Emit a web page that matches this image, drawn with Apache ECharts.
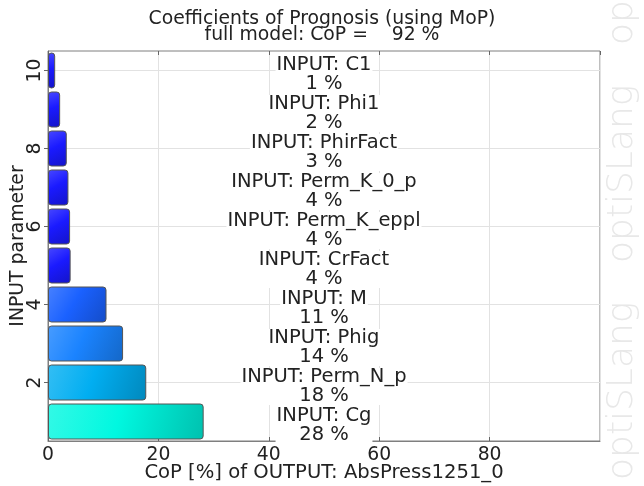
<!DOCTYPE html>
<html>
<head>
<meta charset="utf-8">
<script src="https://cdn.jsdelivr.net/npm/echarts@6/dist/echarts.min.js"></script>
<style>
  html, body { margin: 0; padding: 0; background: #fff; }
  #chart { width: 644px; height: 486px; }
</style>
</head>
<body>
<div id="chart"></div>
<script>
// input parameters, bottom (1) to top (10)
const paramIndex = ['1', '2', '3', '4', '5', '6', '7', '8', '9', '10']
const paramNames = ['Cg', 'Perm_N_p', 'Phig', 'M', 'CrFact', 'Perm_K_eppl', 'Perm_K_0_p', 'PhirFact', 'Phi1', 'C1']
const copValues = [28.2, 17.8, 13.6, 10.6, 4.1, 4.0, 3.7, 3.4, 2.2, 1.3]
const fullModelCoP = 92

const FONT = 'DejaVu Sans'

// colour map: small CoP -> blue, large CoP -> cyan
const colorStops = [
  [0, [26, 26, 255]],
  [5, [26, 26, 255]],
  [11, [26, 102, 255]],
  [14, [26, 136, 255]],
  [18, [0, 176, 240]],
  [28, [0, 248, 224]]
]

function mapColor(v) {
  for (let i = 1; i < colorStops.length; i++) {
    const a = colorStops[i - 1], b = colorStops[i]
    if (v <= b[0] || i === colorStops.length - 1) {
      const t = Math.max(0, Math.min(1, (v - a[0]) / (b[0] - a[0])))
      return a[1].map((c, k) => c + (b[1][k] - c) * t)
    }
  }
}

function rgb(c) {
  return 'rgb(' + c.map(x => Math.round(x)).join(',') + ')'
}

function barFill(v) {
  const c = mapColor(v)
  const light = c.map(x => x + (255 - x) * 0.2)
  const dark = c.map(x => x * 0.78)
  return new echarts.graphic.LinearGradient(0, 0, 1, 1, [
    { offset: 0, color: rgb(light) },
    { offset: 0.45, color: rgb(c) },
    { offset: 1, color: rgb(dark) }
  ])
}

const evenOnly = function (idx) { return idx % 2 === 1 }

const chart = echarts.init(document.getElementById('chart'))

const option = {
  backgroundColor: '#ffffff',
  animation: false,
  title: {
    text: 'Coefficients of Prognosis (using MoP)\nfull model: CoP =    ' + fullModelCoP + ' %',
    left: 'center',
    top: 6,
    textStyle: {
      fontFamily: FONT,
      fontSize: 18.8,
      fontWeight: 'normal',
      color: '#222',
      lineHeight: 16,
      align: 'center'
    }
  },
  grid: {
    left: 48,
    right: 44,
    top: 51,
    bottom: 45,
    outerBoundsMode: 'none',
    containLabel: false,
    show: true,
    borderColor: '#7f7f7f',
    borderWidth: 1,
    backgroundColor: 'transparent'
  },
  xAxis: [
    {
      type: 'value',
      min: 0,
      max: 100,
      interval: 20,
      name: 'CoP [%] of OUTPUT: AbsPress1251_0',
      nameLocation: 'middle',
      nameGap: 22,
      nameMoveOverlap: false,
      nameTextStyle: { fontFamily: FONT, fontSize: 19.6, color: '#222', lineHeight: 20 },
      axisLine: { show: true, lineStyle: { color: '#7f7f7f' } },
      axisTick: { show: true, inside: true, length: 4, lineStyle: { color: '#666' } },
      axisLabel: { fontFamily: FONT, fontSize: 18.8, color: '#222', margin: 5, showMaxLabel: false },
      splitLine: { show: true, lineStyle: { color: '#e2e2e2' } }
    },
    {
      type: 'value',
      position: 'top',
      min: 0,
      max: 100,
      interval: 20,
      axisLine: { show: false },
      axisTick: { show: true, inside: true, length: 4, lineStyle: { color: '#666' } },
      axisLabel: { show: false },
      splitLine: { show: false }
    }
  ],
  yAxis: [
    {
      type: 'category',
      data: paramIndex,
      name: 'INPUT parameter',
      nameLocation: 'middle',
      nameGap: 20,
      nameMoveOverlap: false,
      nameTextStyle: { fontFamily: FONT, fontSize: 18.8, color: '#222' },
      axisLine: { show: true, lineStyle: { color: '#7f7f7f' } },
      axisTick: { show: true, inside: true, length: 4, alignWithLabel: true, interval: evenOnly, lineStyle: { color: '#666' } },
      axisLabel: { fontFamily: FONT, fontSize: 18.8, color: '#222', rotate: 90, margin: 3, interval: evenOnly },
      splitLine: { show: true, alignWithLabel: true, interval: evenOnly, lineStyle: { color: '#e2e2e2' } }
    },
    {
      type: 'category',
      data: paramIndex,
      position: 'right',
      axisLine: { show: false },
      axisTick: { show: true, inside: true, length: 4, alignWithLabel: true, interval: evenOnly, lineStyle: { color: '#666' } },
      axisLabel: { show: false },
      splitLine: { show: false }
    }
  ],
  graphic: [
    { type: 'text', x: 623, y: 480, rotation: Math.PI / 2, silent: true,
      style: { text: 'optiSLang', fontFamily: FONT, fontSize: 36, fontWeight: 200, fill: '#e8e8e8', align: 'left', verticalAlign: 'middle' } },
    { type: 'text', x: 623, y: 263, rotation: Math.PI / 2, silent: true,
      style: { text: 'optiSLang', fontFamily: FONT, fontSize: 36, fontWeight: 200, fill: '#e8e8e8', align: 'left', verticalAlign: 'middle' } },
    { type: 'text', x: 623, y: 45, rotation: Math.PI / 2, silent: true,
      style: { text: 'optiSLang', fontFamily: FONT, fontSize: 36, fontWeight: 200, fill: '#e8e8e8', align: 'left', verticalAlign: 'middle' } }
  ],
  series: [
    {
      type: 'bar',
      xAxisIndex: 0,
      yAxisIndex: 0,
      barWidth: 36,
      data: copValues.map(v => ({
        value: v,
        itemStyle: { color: barFill(v) }
      })),
      itemStyle: {
        borderColor: '#555',
        borderWidth: 1,
        borderRadius: 3
      },
      label: {
        show: true,
        position: [276, '50%'],
        offset: [0, 4],
        align: 'center',
        verticalAlign: 'middle',
        fontFamily: FONT,
        fontSize: 19.5,
        lineHeight: 18.5,
        color: '#222',
        backgroundColor: '#ffffff',
        padding: [0, 1],
        formatter: function (p) {
          return 'INPUT: ' + paramNames[p.dataIndex] + '\n' + Math.round(p.value) + ' %'
        }
      }
    }
  ]
}

chart.setOption(option)
</script>
</body>
</html>
